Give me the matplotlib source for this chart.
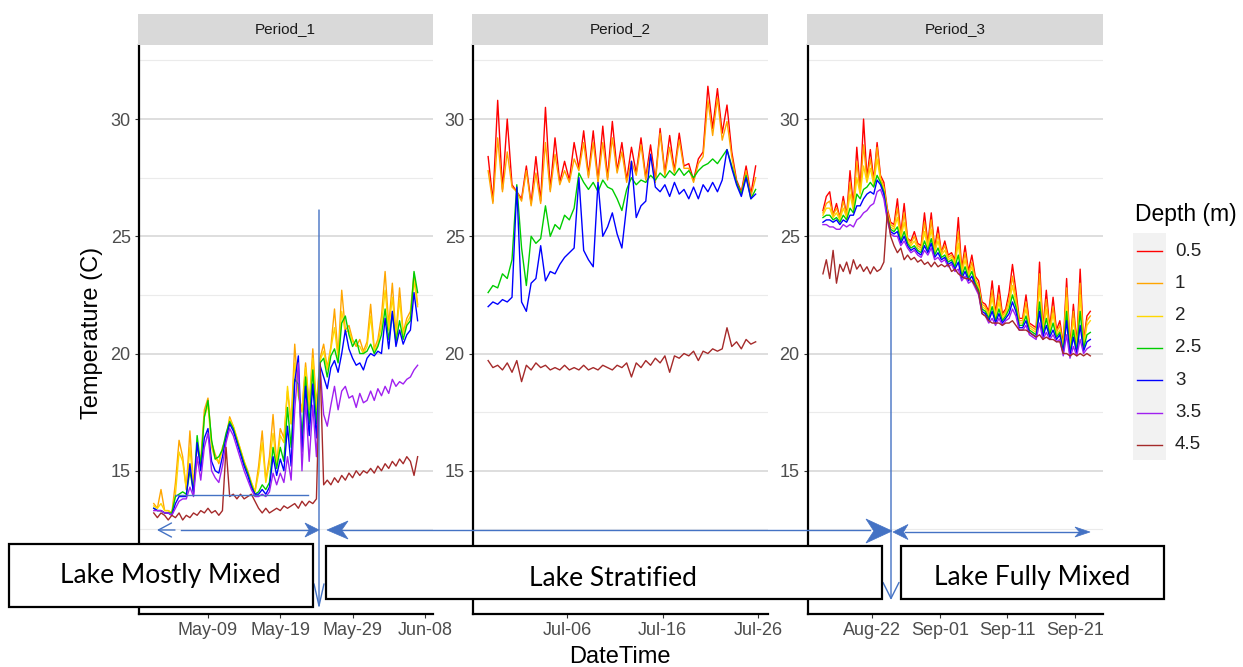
import numpy as np
import matplotlib
matplotlib.use('Agg')
import matplotlib.pyplot as plt
import matplotlib.dates as mdates
from matplotlib.patches import Rectangle, FancyArrowPatch, Polygon
from matplotlib.lines import Line2D

plt.rcParams['font.family'] = ['Liberation Sans', 'DejaVu Sans']

W, H = 1243, 667

depths = ['0.5', '1', '2', '2.5', '3', '3.5', '4.5']
colours = ['#FF0000', '#FFA500', '#FFD700', '#00CD00', '#0000FF', '#A020F0', '#A52A2A']
periods = ['Period_1', 'Period_2', 'Period_3']

# ---- Period 1 : 12-hourly readings from May 1 12:00 ----
p1_start = '2021-05-01T12:00'
p1_1m = [13.6, 13.4, 14.2, 13.3, 13.3, 13.2, 14.5, 16.3, 15.6, 14.2,
         16.7, 14.4, 16.0, 15.5, 17.6, 18.1, 16.2, 15.7, 15.3, 16.0,
         16.4, 17.3, 16.9, 16.4, 15.9, 15.4, 15.0, 14.5, 14.1, 15.2,
         16.7, 14.6, 15.6, 17.4, 15.3, 16.8, 16.4, 18.4, 17.0, 20.4,
         18.2, 17.6, 19.6, 17.8, 20.2, 17.8, 19.8, 20.4, 19.4, 20.3,
         21.9, 19.9, 22.7, 21.0, 21.2, 20.6, 20.3, 20.6, 20.1, 20.5,
         22.1, 20.2, 20.6, 21.6, 23.5, 21.2, 23.0, 20.8, 22.8, 20.9,
         21.5, 21.8, 23.4, 22.1]
p1_2m = [13.5, 13.4, 13.6, 13.3, 13.3, 13.2, 14.0, 15.8, 15.4, 14.2,
         16.0, 14.3, 15.4, 15.3, 17.3, 17.8, 16.0, 15.5, 15.4, 15.9,
         16.3, 17.2, 16.9, 16.4, 15.9, 15.4, 14.9, 14.5, 14.1, 14.9,
         16.2, 14.5, 15.3, 16.6, 15.2, 16.5, 16.2, 18.6, 17.0, 19.6,
         18.4, 17.5, 19.4, 17.6, 19.8, 17.6, 19.7, 20.1, 19.3, 20.2,
         21.1, 19.8, 21.8, 20.9, 21.0, 20.5, 20.4, 20.3, 20.0, 20.3,
         21.6, 20.1, 20.4, 21.2, 22.7, 21.0, 22.4, 20.7, 22.3, 20.8,
         21.3, 21.6, 23.1, 22.0]
p1_25m = [13.4, 13.3, 13.3, 13.2, 13.2, 13.2, 13.9, 14.0, 14.1, 14.0,
          15.0, 14.1, 16.5, 15.2, 17.3, 18.0, 16.3, 15.5, 15.6, 15.9,
          16.6, 17.1, 16.8, 16.3, 15.8, 15.3, 14.9, 14.4, 14.0, 14.1,
          14.4, 14.2, 14.5, 16.0, 15.1, 16.0, 15.4, 17.7, 16.0, 18.9,
          18.7, 16.4, 19.0, 17.0, 19.3, 17.0, 19.6, 19.8, 19.0, 19.9,
          20.2, 19.6, 21.3, 21.6, 20.8, 20.3, 20.6, 20.0, 20.0, 20.1,
          20.4, 20.0, 20.3, 20.8, 21.9, 20.6, 21.7, 20.5, 21.4, 20.6,
          21.2, 21.4, 23.5, 22.6]
p1_3m = [13.4, 13.3, 13.3, 13.2, 13.2, 13.1, 13.6, 13.9, 13.9, 13.9,
         15.3, 14.0, 16.2, 15.0, 16.4, 16.8, 15.4, 15.0, 14.9, 15.6,
         16.4, 17.0, 16.7, 16.2, 15.7, 15.2, 14.8, 14.3, 14.0, 14.0,
         14.2, 14.0, 14.3, 15.6, 14.8, 15.5, 15.0, 16.9, 15.2, 18.8,
         19.9, 15.8, 18.6, 16.5, 18.7, 16.4, 19.5, 19.0, 18.5, 19.4,
         19.7, 19.2, 20.0, 21.0, 20.2, 19.8, 19.5, 19.6, 19.3, 19.8,
         20.0, 19.9, 20.1, 20.0, 21.5, 20.2, 21.8, 20.3, 21.0, 20.4,
         20.8, 21.0, 22.6, 21.4]
p1_35m = [13.3, 13.3, 13.3, 13.2, 13.2, 13.1, 13.4, 13.7, 13.8, 13.8,
          14.3, 13.9, 15.6, 14.6, 16.0, 16.6, 15.0, 14.7, 14.5, 15.2,
          16.2, 16.8, 16.5, 16.0, 15.5, 15.0, 14.6, 14.2, 13.9, 13.9,
          14.0, 13.9, 14.1, 14.9, 14.4, 14.9, 14.5, 15.6, 14.6, 17.6,
          19.6, 15.0, 18.0, 15.4, 17.8, 15.6, 19.4, 17.4, 16.9, 17.8,
          18.6, 17.6, 18.4, 18.6, 18.1, 18.2, 17.7, 18.3, 17.9, 18.0,
          18.4, 18.0, 18.5, 18.2, 18.6, 18.3, 18.9, 18.6, 18.8, 18.7,
          18.9, 19.0, 19.3, 19.5]
p1_45m = [13.2, 13.0, 13.2, 13.1, 12.9, 13.1, 13.0, 13.2, 12.9, 13.1,
          13.0, 13.2, 13.1, 13.3, 13.2, 13.4, 13.2, 13.3, 13.1, 13.3,
          16.0, 13.9, 14.0, 13.8, 14.0, 13.8, 13.9, 14.0, 13.7, 13.4,
          13.2, 13.4, 13.2, 13.3, 13.4, 13.3, 13.5, 13.4, 13.5, 13.6,
          13.4, 13.7, 13.5, 13.7, 13.6, 13.8, 19.6, 14.4, 14.6, 14.4,
          14.7, 14.5, 14.8, 14.6, 14.9, 14.7, 15.0, 14.8, 15.0, 14.9,
          15.1, 14.9, 15.2, 15.0, 15.3, 15.1, 15.4, 15.2, 15.5, 15.3,
          15.6, 15.4, 14.8, 15.6]

# ---- Period 2 : 12-hourly readings from Jun 27 18:00 ----
p2_start = '2021-06-27T18:00'
p2_05m = [28.4, 26.5, 30.8, 27.0, 30.0, 27.2, 26.9, 26.6, 28.0, 26.4,
          28.4, 26.5, 30.5, 27.0, 29.2, 27.3, 28.2, 27.4, 29.0, 27.9,
          29.5, 27.6, 29.5, 27.4, 29.7, 27.5, 29.9, 27.8, 29.0, 27.4,
          28.8, 27.7, 29.2, 27.5, 28.9, 27.4, 29.6, 27.7, 29.3, 27.8,
          29.4, 28.0, 28.1, 27.4, 28.3, 28.6, 31.4, 29.6, 31.3, 29.4,
          30.6, 28.6, 27.4, 26.9, 28.0, 26.8, 28.0]
p2_1m = [27.8, 26.4, 29.2, 26.9, 28.6, 27.1, 26.9, 26.5, 27.8, 26.3,
         27.7, 26.4, 29.0, 26.9, 28.5, 27.2, 27.8, 27.3, 28.3, 27.8,
         29.0, 27.5, 29.0, 27.3, 29.0, 27.4, 29.2, 27.7, 28.6, 27.3,
         28.2, 27.6, 28.9, 27.4, 28.5, 27.3, 29.4, 27.6, 28.8, 27.7,
         29.1, 27.9, 27.9, 27.3, 28.1, 28.4, 30.8, 29.3, 30.9, 29.1,
         29.9, 28.4, 27.3, 26.8, 27.8, 26.7, 27.5]
p2_25m = [22.6, 22.9, 22.8, 23.4, 23.2, 24.0, 27.2, 24.5, 22.9, 25.0,
          24.7, 24.9, 26.3, 25.0, 25.5, 25.3, 25.9, 25.7, 26.2, 27.7,
          27.3, 27.0, 27.3, 26.9, 27.4, 27.1, 27.0, 26.6, 26.1, 27.0,
          27.5, 27.2, 27.4, 27.3, 27.6, 27.4, 27.7, 27.5, 27.8, 27.6,
          27.9, 27.6, 27.8, 27.5, 27.8, 28.0, 28.1, 28.3, 28.1, 28.4,
          28.7, 28.0, 27.3, 26.8, 27.6, 26.6, 27.0]
p2_3m = [22.0, 22.2, 22.1, 22.3, 22.2, 22.4, 27.1, 22.2, 21.8, 23.0,
         23.2, 24.6, 23.1, 23.5, 23.4, 23.8, 24.1, 24.3, 24.5, 27.5,
         24.4, 24.0, 23.7, 27.3, 25.0, 25.4, 26.0, 25.1, 24.5, 26.3,
         28.2, 25.8, 26.3, 26.5, 28.5, 27.1, 26.9, 27.2, 26.7, 27.3,
         26.8, 27.0, 26.6, 27.1, 26.6, 27.2, 26.9, 27.3, 26.9, 27.4,
         28.7, 27.9, 27.2, 26.7, 27.5, 26.6, 26.8]
p2_45m = [19.7, 19.4, 19.5, 19.3, 19.6, 19.2, 19.7, 18.8, 19.5, 19.3,
          19.6, 19.4, 19.5, 19.3, 19.4, 19.3, 19.5, 19.3, 19.4, 19.3,
          19.5, 19.3, 19.4, 19.3, 19.5, 19.4, 19.3, 19.5, 19.4, 19.6,
          19.0, 19.6, 19.4, 19.7, 19.5, 19.8, 19.6, 19.9, 19.2, 19.9,
          19.8, 20.0, 19.9, 20.1, 19.7, 20.1, 20.0, 20.2, 20.1, 20.2,
          21.1, 20.3, 20.5, 20.2, 20.6, 20.4, 20.5]

# ---- Period 3 : 12-hourly readings from Aug 14 18:00 ----
p3_start = '2021-08-14T18:00'
p3_05m = [26.1, 26.7, 26.9, 25.9, 26.4, 25.8, 26.7, 25.9, 27.8, 26.3,
          28.8, 27.0, 30.0, 27.5, 28.7, 27.4, 29.0, 27.6, 27.3, 26.2,
          25.6, 25.5, 26.6, 25.1, 26.4, 24.9, 24.8, 25.2, 24.7, 24.6,
          26.0, 24.7, 26.0, 24.5, 25.4, 24.3, 24.8, 24.2, 24.3, 24.0,
          25.8, 23.6, 24.6, 23.5, 24.2, 23.3, 23.1, 22.2, 22.1, 21.8,
          23.1, 21.7, 22.9, 21.7, 21.9, 22.6, 23.8, 22.7, 21.5, 21.5,
          22.5, 21.3, 21.2, 21.1, 23.9, 21.1, 22.7, 21.1, 22.4, 21.0,
          21.4, 20.4, 23.2, 20.3, 22.1, 20.4, 23.6, 20.5, 21.6, 21.8]
p3_1m = [26.0, 26.4, 26.5, 25.9, 26.2, 25.8, 26.5, 25.9, 27.3, 26.2,
         28.2, 26.9, 28.9, 27.4, 28.3, 27.3, 28.8, 27.5, 27.1, 26.1,
         25.5, 25.4, 26.2, 25.0, 26.0, 24.9, 24.7, 25.0, 24.6, 24.5,
         25.6, 24.6, 25.7, 24.4, 25.1, 24.3, 24.6, 24.1, 24.2, 23.9,
         25.2, 23.5, 24.3, 23.4, 23.9, 23.2, 22.9, 22.1, 22.0, 21.7,
         22.7, 21.6, 22.5, 21.6, 21.8, 22.3, 23.3, 22.4, 21.4, 21.4,
         22.2, 21.2, 21.1, 21.0, 23.4, 21.0, 22.3, 21.0, 22.0, 20.9,
         21.2, 20.3, 22.8, 20.2, 21.8, 20.3, 23.0, 20.4, 21.4, 21.6]
p3_2m = [25.9, 26.2, 26.2, 25.8, 26.0, 25.7, 26.2, 25.8, 26.8, 26.1,
         27.5, 26.8, 28.0, 27.3, 27.9, 27.2, 28.3, 27.4, 27.0, 26.0,
         25.4, 25.3, 25.8, 24.9, 25.6, 24.8, 24.6, 24.8, 24.5, 24.4,
         25.2, 24.5, 25.3, 24.3, 24.8, 24.2, 24.4, 24.0, 24.1, 23.8,
         24.7, 23.4, 24.0, 23.3, 23.7, 23.1, 22.8, 22.0, 21.9, 21.6,
         22.4, 21.5, 22.2, 21.5, 21.7, 22.1, 22.9, 22.2, 21.3, 21.3,
         21.9, 21.1, 21.0, 20.9, 22.9, 20.9, 21.9, 20.9, 21.7, 20.8,
         21.0, 20.2, 22.4, 20.1, 21.5, 20.2, 22.5, 20.3, 21.2, 21.4]
p3_25m = [25.8, 25.9, 25.9, 25.7, 25.8, 25.6, 25.9, 25.7, 26.2, 26.0,
          26.8, 26.6, 27.0, 27.1, 27.3, 27.1, 27.6, 27.3, 26.9, 25.9,
          25.3, 25.2, 25.4, 24.8, 25.2, 24.7, 24.5, 24.6, 24.4, 24.3,
          24.8, 24.4, 24.9, 24.2, 24.5, 24.1, 24.2, 23.9, 24.0, 23.7,
          24.2, 23.3, 23.7, 23.2, 23.5, 23.0, 22.7, 21.9, 21.8, 21.5,
          22.0, 21.4, 21.9, 21.4, 21.6, 21.9, 22.5, 22.0, 21.2, 21.2,
          21.6, 21.0, 20.9, 20.8, 22.2, 20.8, 21.5, 20.8, 21.3, 20.7,
          20.9, 20.1, 21.8, 20.0, 21.0, 20.1, 21.8, 20.2, 20.8, 20.9]
p3_3m = [25.6, 25.7, 25.7, 25.6, 25.7, 25.5, 25.7, 25.6, 25.9, 25.9,
         26.3, 26.3, 26.6, 26.8, 26.9, 26.8, 27.4, 27.2, 26.8, 25.8,
         25.2, 25.1, 25.2, 24.7, 25.0, 24.6, 24.4, 24.5, 24.3, 24.2,
         24.6, 24.3, 24.7, 24.1, 24.3, 24.0, 24.1, 23.8, 23.9, 23.6,
         23.9, 23.2, 23.5, 23.1, 23.3, 22.9, 22.6, 21.8, 21.7, 21.4,
         21.8, 21.3, 21.7, 21.3, 21.5, 21.7, 22.2, 21.8, 21.1, 21.1,
         21.4, 20.9, 20.8, 20.7, 21.8, 20.7, 21.2, 20.7, 21.0, 20.6,
         20.8, 20.0, 21.4, 19.9, 20.7, 20.0, 21.2, 20.1, 20.5, 20.6]
p3_35m = [25.5, 25.5, 25.4, 25.4, 25.3, 25.3, 25.5, 25.4, 25.5, 25.4,
          25.7, 25.8, 26.0, 26.1, 26.3, 26.4, 26.9, 27.0, 26.6, 25.7,
          25.1, 25.0, 25.0, 24.6, 24.8, 24.5, 24.3, 24.4, 24.2, 24.1,
          24.4, 24.2, 24.5, 24.0, 24.1, 23.9, 24.0, 23.7, 23.8, 23.5,
          23.6, 23.1, 23.3, 23.0, 23.1, 22.8, 22.5, 21.7, 21.6, 21.3,
          21.5, 21.2, 21.5, 21.2, 21.4, 21.5, 21.9, 21.6, 21.0, 21.0,
          21.2, 20.8, 20.7, 20.6, 21.3, 20.6, 20.9, 20.6, 20.8, 20.5,
          20.6, 19.9, 20.8, 19.8, 20.3, 19.9, 20.6, 20.0, 20.2, 20.3]
p3_45m = [23.4, 24.0, 23.2, 24.4, 23.0, 23.8, 23.5, 23.9, 23.4, 24.0,
          23.6, 23.8, 23.5, 23.7, 23.4, 23.7, 23.5, 23.6, 23.9, 26.0,
          25.0, 24.6, 24.3, 24.5, 24.0, 24.2, 24.0, 24.1, 23.9, 24.0,
          23.8, 23.9, 23.7, 23.9, 23.7, 23.8, 23.7, 23.8, 23.5, 23.6,
          23.4, 23.3, 23.2, 23.2, 23.1, 22.9, 22.6, 21.7, 21.6, 21.4,
          21.3, 21.3, 21.3, 21.2, 21.3, 21.3, 21.4, 21.2, 21.0, 21.0,
          21.0, 20.9, 20.8, 20.7, 20.8, 20.6, 20.7, 20.6, 20.6, 20.5,
          20.5, 20.0, 20.0, 19.9, 20.0, 19.9, 20.0, 19.9, 20.0, 19.9]

p1_ticks = ['2021-05-09', '2021-05-19', '2021-05-29', '2021-06-08']
p2_ticks = ['2021-07-06', '2021-07-16', '2021-07-26']
p3_ticks = ['2021-08-22', '2021-09-01', '2021-09-11', '2021-09-21']

panels = [
    (p1_start, {'1': p1_1m, '2': p1_2m, '2.5': p1_25m, '3': p1_3m,
                '3.5': p1_35m, '4.5': p1_45m},
     ('2021-04-29T11:00', '2021-06-09T03:00'), p1_ticks, (139, 433)),
    (p2_start, {'0.5': p2_05m, '1': p2_1m, '2.5': p2_25m, '3': p2_3m,
                '4.5': p2_45m},
     ('2021-06-26T04:00', '2021-07-27T01:00'), p2_ticks, (473, 768)),
    (p3_start, {'0.5': p3_05m, '1': p3_1m, '2': p3_2m, '2.5': p3_25m,
                '3': p3_3m, '3.5': p3_35m, '4.5': p3_45m},
     ('2021-08-12T13:00', '2021-09-25T03:00'), p3_ticks, (808, 1103)),
]


def fbox(x0, y0, x1, y1):
    # pixel box (top-left origin) -> figure fraction
    return [x0 / W, 1 - y1 / H, (x1 - x0) / W, (y1 - y0) / H]


def dnum(s):
    return mdates.date2num(np.datetime64(s).astype('datetime64[s]').astype(object))


fig = plt.figure(figsize=(W / 100, H / 100), dpi=100)

for name, (start, series, lims, ticks, (x0, x1)) in zip(periods, panels):
    ax = fig.add_axes(fbox(x0, 45, x1, 614))
    for dep, col in zip(depths, colours):
        if dep not in series:
            continue
        vals = np.array(series[dep])
        t = np.datetime64(start) + np.arange(len(vals)) * np.timedelta64(12, 'h')
        ax.plot(t.astype('datetime64[s]').astype(object), vals, color=col, lw=1.0)
    ax.set_xlim(dnum(lims[0]), dnum(lims[1]))
    ax.set_ylim(8.89, 33.16)
    ax.set_yticks([15, 20, 25, 30])
    ax.set_yticks([12.5, 17.5, 22.5, 27.5, 32.5], minor=True)
    ax.set_xticks([dnum(s) for s in ticks])
    ax.xaxis.set_major_formatter(mdates.DateFormatter('%b-%d'))
    ax.grid(axis='y', which='major', color='#D4D4D4', lw=1.1)
    ax.grid(axis='y', which='minor', color='#EBEBEB', lw=0.8)
    ax.set_axisbelow(True)
    for s in ['top', 'right']:
        ax.spines[s].set_visible(False)
    for s in ['left', 'bottom']:
        ax.spines[s].set_linewidth(1.6)
        ax.spines[s].set_color('black')
    ax.tick_params(which='major', length=3, width=0.8, color='#333333',
                   labelsize=13, labelcolor='#4D4D4D', pad=3)
    ax.tick_params(which='minor', length=0)

    sx = fig.add_axes(fbox(x0 - 1, 14, x1, 45))
    sx.set_facecolor('#D9D9D9')
    sx.set_xticks([])
    sx.set_yticks([])
    for s in sx.spines.values():
        s.set_visible(False)
    sx.text(0.5, 0.5, name, ha='center', va='center', fontsize=11,
            color='#1A1A1A', transform=sx.transAxes)

fig.text(92 / W, 1 - 333 / H, 'Temperature (C)', rotation=90, ha='center',
         va='center', fontsize=17)
fig.text(620 / W, 1 - 657 / H, 'DateTime', ha='center', va='center', fontsize=17)

# overlay in pixel coordinates for legend and annotations
ov = fig.add_axes([0, 0, 1, 1])
ov.set_xlim(0, W)
ov.set_ylim(H, 0)
ov.axis('off')
ov.set_zorder(10)

ov.text(1135, 215, 'Depth (m)', ha='left', va='center', fontsize=16.5)
ov.add_patch(Rectangle((1133, 233), 33, 227, color='#F2F2F2', lw=0))
for k, (dep, col) in enumerate(zip(depths, colours)):
    yy = 251 + k * 32.3
    ov.add_line(Line2D([1137, 1162], [yy, yy], color=col, lw=1.0))
    ov.text(1175, yy, dep, ha='left', va='center', fontsize=13.5, color='#222222')

blue = '#4472C4'


def open_arrow(p0, p1, hl, hw, lw=1.0):
    st = f'->,head_length={hl / 1.389:.2f},head_width={hw / 1.389:.2f}'
    ov.add_patch(FancyArrowPatch(p0, p1, arrowstyle=st, mutation_scale=1,
                                 color=blue, lw=lw, shrinkA=0, shrinkB=0))


def stealth(tip, sign, length, half):
    # horizontal stealth-shaped arrow head, sign=+1 points right, -1 left
    tx, ty = tip
    pts = [(tx, ty), (tx - sign * length, ty - half),
           (tx - sign * length * 0.7, ty), (tx - sign * length, ty + half)]
    ov.add_patch(Polygon(pts, closed=True, facecolor=blue, edgecolor=blue, lw=0.5))


ov.add_line(Line2D([175, 308], [495, 495], color=blue, lw=1.0))
open_arrow((319, 210), (319, 609), 22, 5)
open_arrow((891, 268), (891, 600), 16, 8)

boxes = [((9, 544, 313, 607), 'Lake Mostly Mixed', 170, 583),
         ((326, 546, 882, 599), 'Lake Stratified', 613, 586),
         ((901, 546, 1164, 599), 'Lake Fully Mixed', 1032, 585)]
for (bx0, by0, bx1, by1), label, tx, ty in boxes:
    ov.add_patch(Rectangle((bx0, by0), bx1 - bx0, by1 - by0, facecolor='white',
                           edgecolor='black', lw=1.6))
    ov.text(tx, ty, label, ha='center', va='baseline', fontsize=19,
            family=['Lato', 'DejaVu Sans'], color='black')

# phase arrows
ov.add_line(Line2D([181, 312], [530, 530], color=blue, lw=1.0))
open_arrow((175, 530), (157, 530), 13, 7)
stealth((319, 530), 1, 14, 7)
ov.add_line(Line2D([340, 870], [530, 530], color=blue, lw=1.0))
stealth((327, 530), -1, 21, 9)
stealth((892, 531), 1, 26, 12)
ov.add_line(Line2D([905, 1080], [532, 532], color=blue, lw=1.0))
stealth((893, 532), -1, 15, 7.5)
stealth((1090, 532), 1, 15, 5)

fig.savefig('out.png', dpi=100)
